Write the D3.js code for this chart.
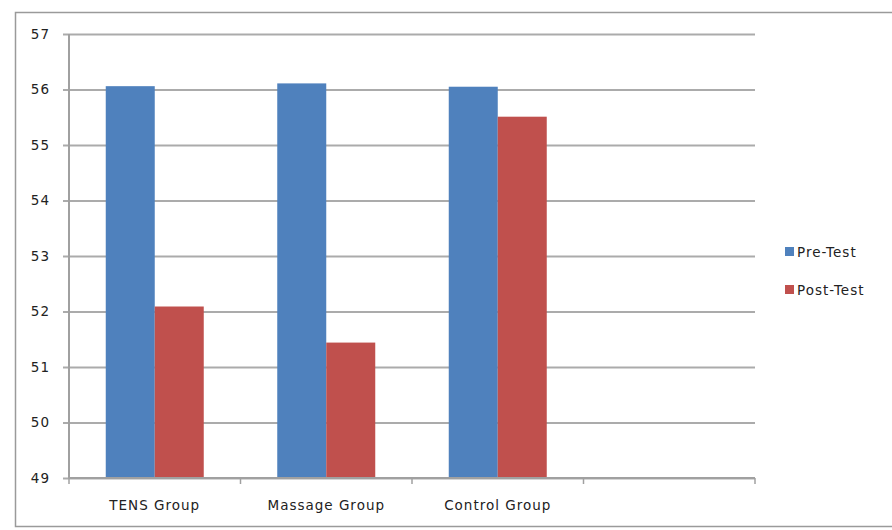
<!DOCTYPE html>
<html>
<head>
<meta charset="utf-8">
<script src="https://cdn.jsdelivr.net/npm/d3@7"></script>
<style>
  html, body { margin: 0; padding: 0; background: #fff; }
  svg { display: block; }
</style>
</head>
<body>
<svg id="chart" width="892" height="530"></svg>
<script>
// Category slots along the x axis (the fourth slot is left empty)
const categories = ["TENS Group", "Massage Group", "Control Group", ""];
const seriesNames = ["Pre-Test", "Post-Test"];
const preTest  = [56.06, 56.11, 56.05, null];
const postTest = [52.09, 51.44, 55.51, null];
const yTicks = [49, 50, 51, 52, 53, 54, 55, 56, 57];
const colors = ["#4F81BD", "#C0504D"];

const svg = d3.select("#chart");
const font = "'DejaVu Sans', Verdana, sans-serif";
const fontSize = 13.5;
const spacing = "1px";

// Outer chart frame
svg.append("rect")
  .attr("x", 15.5).attr("y", 12.5)
  .attr("width", 890).attr("height", 514)
  .attr("fill", "#fff")
  .attr("stroke", "#9a9a9a").attr("stroke-width", 1.5);

const plot = { left: 69, right: 755, top: 34, bottom: 478 };

const x = d3.scaleBand()
  .domain(d3.range(categories.length))
  .range([plot.left, plot.right])
  .paddingInner(0).paddingOuter(0);

const y = d3.scaleLinear()
  .domain([49, 57])
  .range([plot.bottom, plot.top]);

// Bars share each slot with a 150% gap, as in the spreadsheet default
const barW = x.bandwidth() / 3.5;
const x1 = d3.scaleBand()
  .domain(d3.range(seriesNames.length))
  .range([0, barW * 2]);

// Horizontal gridlines with outward tick marks on the value axis
const yAxis = d3.axisLeft(y)
  .tickValues(yTicks)
  .tickSize(-(plot.right - plot.left))
  .tickSizeOuter(0)
  .tickPadding(19)
  .tickFormat(d3.format("d"));

const gy = svg.append("g")
  .attr("transform", `translate(${plot.left},0)`)
  .call(yAxis);
gy.select(".domain").remove();
gy.selectAll(".tick line")
  .attr("x1", -6)
  .attr("stroke", "#ababab").attr("stroke-width", 2);
gy.selectAll(".tick text")
  .attr("font-family", font).attr("font-size", fontSize)
  .attr("letter-spacing", spacing).attr("fill", "#222");

// Bars
const data = categories.map((c, i) => ({ i, values: [preTest[i], postTest[i]] }));
const groups = svg.append("g").selectAll("g")
  .data(data).join("g")
  .attr("transform", d => `translate(${x(d.i) + (x.bandwidth() - barW * 2) / 2},0)`);

groups.selectAll("rect")
  .data(d => d.values.map((v, s) => ({ v, s })).filter(e => e.v != null))
  .join("rect")
  .attr("x", e => x1(e.s))
  .attr("width", x1.bandwidth())
  .attr("y", e => y(e.v))
  .attr("height", e => y(49) - y(e.v))
  .attr("fill", e => colors[e.s]);

// Vertical axis line
svg.append("line")
  .attr("x1", plot.left).attr("x2", plot.left)
  .attr("y1", plot.top).attr("y2", plot.bottom)
  .attr("stroke", "#a0a0a0").attr("stroke-width", 2);

// Category axis with tick marks between slots
const xEdges = d3.range(categories.length + 1).map(k => plot.left + k * x.bandwidth());
const gx = svg.append("g");
gx.append("line")
  .attr("x1", plot.left).attr("x2", plot.right)
  .attr("y1", plot.bottom).attr("y2", plot.bottom)
  .attr("stroke", "#a0a0a0").attr("stroke-width", 2);
gx.selectAll("line.tk").data(xEdges).join("line")
  .attr("class", "tk")
  .attr("x1", d => d).attr("x2", d => d)
  .attr("y1", plot.bottom).attr("y2", plot.bottom + 6)
  .attr("stroke", "#a0a0a0").attr("stroke-width", 1.5);
gx.selectAll("text").data(categories.map((c, i) => ({ c, i })).filter(d => d.c))
  .join("text")
  .attr("x", d => x(d.i) + x.bandwidth() / 2)
  .attr("y", 510)
  .attr("text-anchor", "middle")
  .attr("font-family", font).attr("font-size", fontSize)
  .attr("letter-spacing", spacing).attr("fill", "#222")
  .text(d => d.c);

// Legend
const legend = svg.append("g").attr("transform", "translate(785,247)");
const items = legend.selectAll("g").data(seriesNames).join("g")
  .attr("transform", (d, i) => `translate(0,${i * 38})`);
items.append("rect")
  .attr("width", 9).attr("height", 9)
  .attr("fill", (d, i) => colors[i]);
items.append("text")
  .attr("x", 12).attr("y", 9.5)
  .attr("font-family", font).attr("font-size", fontSize)
  .attr("letter-spacing", spacing).attr("fill", "#222")
  .text(d => d);
</script>
</body>
</html>
